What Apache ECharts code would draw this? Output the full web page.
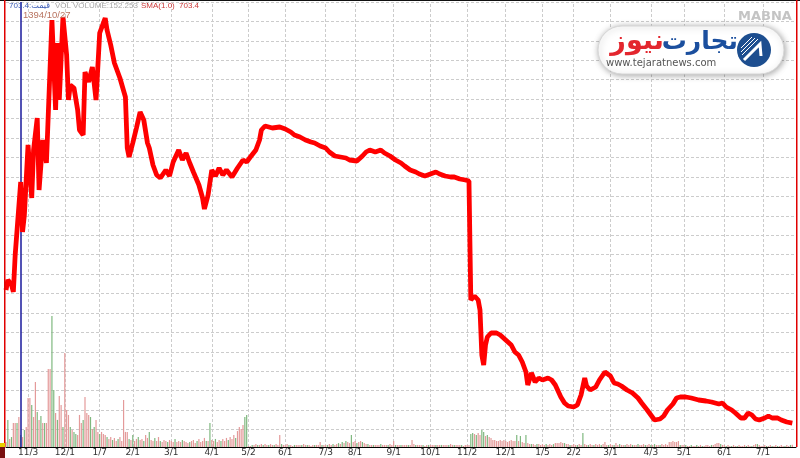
<!DOCTYPE html>
<html><head><meta charset="utf-8">
<script src="https://cdn.jsdelivr.net/npm/echarts@6/dist/echarts.min.js"></script>
<style>html,body{margin:0;padding:0;background:#fff}#c{width:800px;height:458px}</style>
</head><body><div id="c"></div>
<script>
// ---- data ----
const tickDays = [12,32,51,69,90,112,132,152,174,190,211,231,251,272,292,309,329,351,369,391,412];
const tickLabels = ['11/3','12/1','1/7','2/1','3/1','4/1','5/2','6/1','7/3','8/1','9/1','10/1','11/2','12/1','1/5','2/2','3/1','4/3','5/1','6/1','7/1'];
const priceDay = [0,1,3,4,5,8,9,10,12,14,15,17,18,20,21,22,23,25,27,28,29,31,33,34,35,37,39,40,42,43,45,47,49,51,54,55,57,59,62,65,66,67,69,71,73,75,77,78,80,82,84,87,89,91,94,96,98,100,102,105,107,108,110,112,114,116,118,120,123,126,129,131,133,136,138,139,141,145,149,152,155,157,160,163,166,168,171,174,176,179,182,185,187,191,194,196,198,201,204,206,209,212,215,217,220,223,225,228,231,234,236,239,242,244,247,250,252,253,255,257,258,259,260,261,262,264,267,269,272,275,277,279,281,283,284,286,288,290,292,295,297,299,302,304,306,309,311,313,315,316,318,321,323,326,327,329,331,333,335,338,341,344,346,349,351,353,356,358,360,363,365,367,370,373,377,381,384,388,390,392,395,397,400,402,404,406,408,410,413,415,417,420,422,425,428];
const priceVal = [1502,1562,1532,1490,1712,2150,1850,1952,2372,2054,2342,2534,2102,2402,2354,2264,2552,3122,2582,2984,2642,3140,2912,2642,2732,2714,2582,2462,2432,2810,2750,2840,2642,3044,3134,3062,2972,2864,2774,2660,2354,2300,2384,2474,2570,2522,2384,2354,2252,2192,2174,2222,2186,2270,2342,2282,2324,2264,2210,2132,2054,1988,2072,2222,2186,2234,2192,2222,2180,2234,2282,2270,2300,2342,2402,2462,2486,2474,2480,2468,2450,2432,2420,2402,2390,2384,2366,2354,2330,2306,2300,2294,2282,2276,2306,2330,2342,2330,2342,2324,2306,2282,2264,2246,2222,2210,2198,2186,2198,2210,2198,2186,2180,2180,2168,2162,2156,1442,1466,1442,1382,1112,1052,1172,1220,1244,1244,1232,1202,1172,1130,1112,1070,1010,932,1004,950,974,962,974,962,932,860,824,806,800,812,872,974,926,902,920,962,1010,1022,986,944,938,926,902,884,854,824,782,752,722,728,746,782,818,854,860,860,854,842,836,830,818,824,800,782,764,734,734,764,752,728,722,734,746,734,734,722,710,703.4];
const volume = [
0.34,1.85,0.55,0.68,1.64,1.64,1.64,2.05,0.82,0.68,
1.16,1.37,3.35,3.35,2.87,2.05,4.44,2.39,1.85,2.12,
1.64,1.64,1.64,5.33,5.33,8.95,3.9,2.32,1.85,3.49,
2.87,1.37,6.43,2.53,2.19,1.37,1.16,1.03,0.89,0.82,
2.19,1.64,1.85,3.42,2.32,2.19,2.05,1.23,1.37,1.85,
1.03,0.89,1.03,0.89,0.82,0.68,0.55,0.68,0.48,0.62,
0.41,0.55,0.68,0.41,3.21,1.03,1.03,0.55,0.48,0.82,
0.41,0.55,0.68,0.48,0.55,0.41,0.82,0.62,1.03,0.48,
0.41,0.62,0.41,0.68,0.41,0.34,0.48,0.41,0.34,0.48,
0.41,0.34,0.55,0.34,0.41,0.34,0.48,0.41,0.34,0.27,
0.34,0.41,0.48,0.27,0.41,0.55,0.34,0.41,0.62,0.41,
0.41,1.64,0.48,0.41,0.55,0.34,0.48,0.41,0.55,0.41,
0.62,0.48,0.68,0.55,0.82,0.62,1.09,1.37,1.23,1.5,
2.05,2.19,
0.07,0.07,0.14,0.14,0.2,0.14,0.14,0.2,0.14,0.2,
0.14,0.14,0.2,0.14,0.14,0.2,0.14,0.82,0.2,0.14,
0.14,0.2,0.14,0.14,0.07,0.14,0.14,0.14,0.14,0.14,
0.2,0.14,0.14,0.14,0.07,0.14,0.14,0.14,0.14,0.34,
0.14,0.14,0.14,0.14,0.2,0.14,0.2,0.14,0.2,0.27,
0.2,0.34,0.27,0.41,0.34,0.27,0.82,0.34,0.41,0.27,
0.34,0.41,0.34,0.27,0.2,0.2,0.14,0.14,0.14,0.14,
0.14,0.14,0.2,0.14,0.14,0.14,0.14,0.2,0.14,0.41,
0.14,0.14,0.14,0.14,0.14,0.14,0.14,0.14,0.14,0.48,
0.2,0.14,0.14,0.14,0.14,0.14,0.07,0.14,0.14,0.14,
0.14,0.14,0.14,0.14,0.14,0.14,0.14,0.14,0.14,0.14,
0.2,0.14,0.14,0.14,0.14,0.14,0.14,0.07,0.14,0.14,
0.14,0.89,0.96,0.89,0.82,0.96,0.82,1.16,1.03,0.75,
0.82,0.68,0.62,0.48,0.48,0.41,0.41,0.48,0.41,0.48,
0.41,0.34,0.41,0.48,0.41,0.41,0.82,0.41,0.75,0.34,
0.27,0.82,0.27,0.2,0.2,0.2,0.14,0.2,0.2,0.14,
0.2,0.14,0.2,0.14,0.2,0.14,0.2,0.27,0.27,0.27,
0.34,0.27,0.27,0.2,0.2,0.14,0.14,0.2,0.14,0.14,
0.2,0.14,0.96,0.2,0.14,0.14,0.2,0.14,0.14,0.2,
0.14,0.2,0.14,0.2,0.34,0.14,0.14,0.2,0.14,0.14,
0.27,0.14,0.2,0.14,0.14,0.14,0.2,0.14,0.2,0.14,
0.14,0.14,0.2,0.14,0.14,0.2,0.14,0.14,0.2,0.14,
0.14,0.2,0.14,0.14,0.14,0.2,0.14,0.2,0.14,0.34,
0.34,0.41,0.34,0.34,0.41,0.14,0.14,0.14,0.14,0.07,
0.07,0.14,0.07,0.07,0.14,0.07,0.14,0.07,0.07,0.14,
0.14,0.07,0.14,0.14,0.2,0.27,0.27,0.2,0.14,0.14,
0.07,0.14,0.07,0.07,0.14,0.07,0.07,0.14,0.07,0.07,
0.14,0.07,0.14,0.07,0.07,0.14,0.2,0.2,0.14,0.07,
0.07,0.14,0.07,0.07,0.14,0.07,0.07,0.14,0.07,0.07,
0.14,0.07,0.07,0.14,0.07,0.14,0.152];
const volDirGroups = [
'rgrgrrgrgr','grrrgrrgrg','rgrrrggrgr','rgrrrgrggr','rrgrrrgrgr','rgrrrgrrgr','rgrrrrrgrg',
'rrgrrgrrgr','rgrrgrrrgr','rrgrrrgrrr','grrrgrrrrg','rgrrgrrgrr','rgrrrgrrrr','gg',
'rrgrrgrrgr','rgrrgrrrgr','rrgrrgrrrg','rrgrrrgrrr','grrgrrgrrg','rgrgrrgrrg','rrgrrgrrgr',
'rrgrrrgrrr','grrgrrrgrr','rgrrrgrrgr','rrgrrgrrrg','rrgrrrgrrr','rggrgrrggr','grrrrrrrrr',
'rrrrrrgrgr','rgrrgrrgrr','rrgrrrgrrr','rrgrrgrrrg','rrgrrgrrgr','rrgrrrgrrg','rrgrrgrrrg',
'rrgrrrgrrg','rgrrgrrrrr','rrrrrgrrgr','rgrrgrrgrr','rrgrrrrgrr','grrgrrgrrr','rgrrgrrgrr',
'rrgrrgrrgr','rrgrrgr'];
const cursorDay = 8;
const cursorDate = '1394/10/27';
const lastPrice = '703.4';
const lastVolume = '152.253';

// ---- chart ----
const volDir = volDirGroups.join('');
const labelMap = {};
tickDays.forEach((d, i) => labelMap[d] = tickLabels[i]);
const priceData = priceDay.map((d, i) => [d, priceVal[i]]);
const volData = volume.map((v, i) => ({
  value: [i, v],
  itemStyle: { color: volDir[i] === 'g' ? '#7fb87f' : '#e49a9a' }
}));
const dash = { type: [3, 2], color: '#cccccc', width: 1 };
const F = 'DejaVu Sans';
const HF = '8px "Liberation Sans"';

const chart = echarts.init(document.getElementById('c'), null, { renderer: 'canvas' });
chart.setOption({
  animation: false,
  backgroundColor: '#ffffff',
  grid: { left: 6, right: 4, top: 2, bottom: 11 },
  xAxis: {
    type: 'value', min: 0, max: 430,
    axisLine: { show: true, lineStyle: { color: '#000', width: 1 } },
    axisTick: { show: false },
    axisLabel: { customValues: tickDays, formatter: v => labelMap[v] || '', fontSize: 9, color: '#333', margin: 1, fontFamily: F },
    splitLine: { show: false }
  },
  yAxis: [
    { type: 'value', min: 560, max: 3230, show: false },
    { type: 'value', min: 0, max: 30.4, show: false },
    { type: 'value', inverse: true, min: 0, max: 22.9, interval: 1,
      axisLine: { show: false }, axisTick: { show: false }, axisLabel: { show: false },
      splitLine: { show: true, lineStyle: dash } }
  ],
  series: [
    { type: 'bar', yAxisIndex: 1, data: volData, barWidth: 1.2, z: 2, silent: true,
      markLine: { symbol: 'none', silent: true, label: { show: false }, z: 1,
        lineStyle: dash, data: tickDays.map(d => ({ xAxis: d })) } },
    { type: 'line', yAxisIndex: 0, data: priceData, symbol: 'none', z: 5, silent: true,
      lineStyle: { color: '#ff0000', width: 4.8 },
      markLine: { symbol: 'none', silent: true, label: { show: false },
        lineStyle: { color: '#1a1a9c', width: 1.5, type: 'solid' },
        data: [{ xAxis: cursorDay }] } }
  ],
  graphic: [
    { type: 'rect', shape: { x: 0, y: 0, width: 800, height: 1 }, style: { fill: '#111' }, z: 100 },
    { type: 'rect', shape: { x: 4, y: 0, width: 1.5, height: 447 }, style: { fill: '#e00000' }, z: 100 },
    { type: 'rect', shape: { x: 796, y: 0, width: 1.5, height: 447 }, style: { fill: '#e00000' }, z: 100 },
    { type: 'rect', shape: { x: 0, y: 443, width: 5, height: 4 }, style: { fill: '#e8d000' }, z: 100 },
    { type: 'rect', shape: { x: 0, y: 447, width: 5, height: 11 }, style: { fill: '#7a1010' }, z: 100 },
    { type: 'text', x: 9, y: 6, style: { text: lastPrice + ':', font: HF, fill: '#3b5bb5', verticalAlign: 'middle' }, z: 100 },
    { type: 'text', x: 50, y: 6, style: { text: 'قیمت', font: '8px "DejaVu Sans"', fill: '#3b5bb5', align: 'right', verticalAlign: 'middle' }, z: 100 },
    { type: 'text', x: 55, y: 6, style: { text: 'VOL', font: HF, fill: '#a8a8a8', verticalAlign: 'middle' }, z: 100 },
    { type: 'text', x: 73, y: 6, style: { text: 'VOLUME:' + lastVolume, font: HF, fill: '#a8a8a8', verticalAlign: 'middle' }, z: 100 },
    { type: 'text', x: 141, y: 6, style: { text: 'SMA(1.0)', font: HF, fill: '#cc3a3a', verticalAlign: 'middle' }, z: 100 },
    { type: 'text', x: 179, y: 6, style: { text: lastPrice, font: HF, fill: '#cc3a3a', verticalAlign: 'middle' }, z: 100 },
    { type: 'text', x: 23, y: 15, style: { text: cursorDate, font: '9.5px "Liberation Sans"', fill: '#b8735f', verticalAlign: 'middle' }, z: 100 },
    { type: 'text', x: 738, y: 17, style: { text: 'MABNA', font: 'bold 13px "DejaVu Sans"', fill: '#c4c4c4', verticalAlign: 'middle' }, z: 100 },
    { type: 'rect', shape: { x: 598, y: 26, width: 186, height: 48, r: 24 },
      style: { fill: '#fff', stroke: '#d6d6d6', lineWidth: 1, shadowBlur: 6, shadowColor: 'rgba(0,0,0,0.35)', shadowOffsetX: 1, shadowOffsetY: 1 }, z: 100 },
    { type: 'circle', shape: { cx: 754, cy: 50, r: 17 }, style: { fill: '#1d4e8f' }, z: 101 },
    { type: 'polyline', shape: { points: [[744, 60], [760, 44], [761, 56]] }, style: { stroke: '#fff', lineWidth: 3, fill: 'none' }, z: 102 },
    { type: 'line', shape: { x1: 741, y1: 48, x2: 752, y2: 37 }, style: { stroke: '#fff', lineWidth: 1 }, z: 102 },
    { type: 'line', shape: { x1: 741, y1: 52, x2: 755, y2: 38 }, style: { stroke: '#fff', lineWidth: 1 }, z: 102 },
    { type: 'line', shape: { x1: 742, y1: 55, x2: 758, y2: 39 }, style: { stroke: '#fff', lineWidth: 1 }, z: 102 },
    { type: 'text', x: 738, y: 42, style: { text: 'تجارت', font: 'bold 25px "DejaVu Sans"', fill: '#1b4f9e', align: 'right', verticalAlign: 'middle' }, z: 101 },
    { type: 'text', x: 664, y: 42, style: { text: 'نیوز', font: 'bold 27px "DejaVu Sans"', fill: '#e3262e', align: 'right', verticalAlign: 'middle' }, z: 101 },
    { type: 'text', x: 606, y: 63, style: { text: 'www.tejaratnews.com', font: '10px "DejaVu Sans"', fill: '#555', verticalAlign: 'middle' }, z: 101 }
  ]
});
</script></body></html>
